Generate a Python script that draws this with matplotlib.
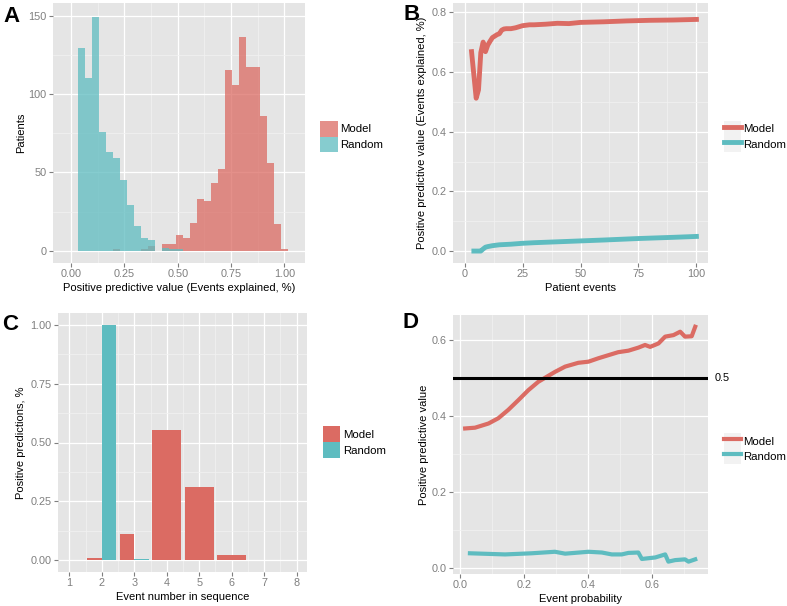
import numpy as np
import matplotlib
matplotlib.use("Agg")
import matplotlib.pyplot as plt
from matplotlib.patches import Patch
from matplotlib.lines import Line2D
from matplotlib.ticker import MultipleLocator, FormatStrFormatter

plt.rcParams['font.family'] = ['Liberation Sans', 'DejaVu Sans']

RED = '#DB6B63'
TEAL = '#5EBCC0'
BG = '#E5E5E5'
GREY = '#7F7F7F'
W, H = 787, 606

# --- A: histogram of PPV per patient (30 bins)
hist_edges = np.linspace(0.034, 1.017, 31)
hist_model = [0, 0, 0, 0, 0, 1, 0, 0, 0, 1, 3, 0, 4, 4, 10, 8, 18, 33, 32, 43,
              52, 115, 106, 136, 117, 117, 86, 56, 17, 1]
hist_random = [129, 110, 149, 76, 63, 59, 45, 29, 16, 8, 7, 0, 2, 1, 1, 0, 0, 0, 0, 0,
               0, 0, 0, 0, 0, 0, 0, 0, 0, 0]

# --- B: PPV vs number of patient events
b_events = [3, 4, 5, 6, 7, 8, 9, 10, 11, 12, 13, 14, 15, 16, 17, 18, 20, 22, 25, 28,
            30, 35, 40, 45, 50, 55, 60, 70, 80, 90, 100]
b_model = [0.668, 0.59, 0.512, 0.54, 0.665, 0.70, 0.668, 0.69, 0.703, 0.715, 0.72,
           0.725, 0.728, 0.74, 0.744, 0.745, 0.745, 0.748, 0.755, 0.758, 0.758, 0.760,
           0.763, 0.762, 0.766, 0.767, 0.768, 0.771, 0.773, 0.774, 0.776]
b_rand_events = [4, 5, 6, 7, 8, 9, 10, 12, 15, 20, 25, 30, 40, 50, 60, 75, 90, 100]
b_random = [0.0, 0.0, 0.0, 0.0, 0.007, 0.013, 0.015, 0.018, 0.021, 0.023, 0.026,
            0.028, 0.031, 0.034, 0.037, 0.042, 0.046, 0.049]

# --- C: positive predictions by event number
c_model_x = [2, 3, 4, 5, 6, 7]
c_model = [0.01, 0.11, 0.553, 0.31, 0.021, 0.002]
c_rand_x = [2, 3]
c_random = [1.0, 0.004]

# --- D: PPV vs event probability
d_prob = [0.016, 0.047, 0.089, 0.12, 0.151, 0.183, 0.214, 0.245, 0.271, 0.297, 0.329,
          0.370, 0.402, 0.433, 0.464, 0.495, 0.527, 0.558, 0.579, 0.595, 0.621, 0.642,
          0.668, 0.689, 0.704, 0.725, 0.736]
d_model = [0.367, 0.369, 0.380, 0.394, 0.416, 0.442, 0.468, 0.490, 0.503, 0.516, 0.530,
           0.540, 0.543, 0.552, 0.560, 0.568, 0.572, 0.580, 0.587, 0.582, 0.591, 0.609,
           0.613, 0.622, 0.609, 0.610, 0.635]
d_rand_prob = [0.031, 0.141, 0.224, 0.297, 0.329, 0.402, 0.444, 0.475, 0.506, 0.527,
               0.558, 0.569, 0.611, 0.642, 0.652, 0.673, 0.704, 0.715, 0.736]
d_random = [0.038, 0.035, 0.038, 0.042, 0.037, 0.042, 0.040, 0.035, 0.035, 0.039,
            0.040, 0.023, 0.027, 0.035, 0.016, 0.020, 0.022, 0.016, 0.022]

fig = plt.figure(figsize=(W / 100, H / 100), dpi=100)


def panel(l, t, r, b):
    return fig.add_axes([l / W, 1 - b / H, (r - l) / W, (b - t) / H])


def style(ax, xmaj, ymaj, xfmt, yfmt):
    ax.set_facecolor(BG)
    for s in ax.spines.values():
        s.set_visible(False)
    ax.xaxis.set_major_locator(MultipleLocator(xmaj))
    ax.xaxis.set_minor_locator(MultipleLocator(xmaj / 2))
    ax.yaxis.set_major_locator(MultipleLocator(ymaj))
    ax.yaxis.set_minor_locator(MultipleLocator(ymaj / 2))
    ax.xaxis.set_major_formatter(FormatStrFormatter(xfmt))
    ax.yaxis.set_major_formatter(FormatStrFormatter(yfmt))
    ax.grid(True, which='major', color='white', lw=0.9)
    ax.grid(True, which='minor', color='#F2F2F2', lw=0.5)
    ax.set_axisbelow(True)
    ax.tick_params(which='major', length=3, width=0.8, color=GREY,
                   labelcolor=GREY, labelsize=7.8, pad=1.5)
    ax.tick_params(which='minor', length=0)


def legend(handles, x, y, hl=1.55):
    fig.legend(handles, ['Model', 'Random'], loc='center left',
               bbox_to_anchor=(x / W, 1 - y / H), frameon=False, fontsize=8.2,
               handlelength=hl, handleheight=1.75, labelspacing=0,
               handletextpad=0.25, borderpad=0, borderaxespad=0)


def letter(s, x, y):
    fig.text(x / W, 1 - y / H, s, fontsize=16, fontweight='bold',
             ha='left', va='baseline')


# A
axA = panel(53, 3, 305, 263)
style(axA, 0.25, 50, '%.2f', '%d')
axA.stairs(hist_model, hist_edges, fill=True, color=RED, alpha=0.75, lw=0)
axA.stairs(hist_random, hist_edges, fill=True, color=TEAL, alpha=0.75, lw=0)
axA.set_xlim(-0.085, 1.097)
axA.set_ylim(-7.8, 158)
axA.set_xlabel('Positive predictive value (Events explained, %)', fontsize=8, labelpad=3)
axA.set_ylabel('Patients', fontsize=8, labelpad=2)
legend([Patch(facecolor=RED, alpha=0.75), Patch(facecolor=TEAL, alpha=0.75)], 320, 136.5)
letter('A', 3, 21.5)

# B
axB = panel(453, 3, 708, 263)
style(axB, 25, 0.2, '%d', '%.1f')
axB.plot(b_events, b_model, color=RED, lw=3.5)
axB.plot(b_rand_events, b_random, color=TEAL, lw=3.5)
axB.set_xlim(-5, 105)
axB.set_ylim(-0.04, 0.831)
axB.set_xlabel('Patient events', fontsize=8, labelpad=3)
axB.set_ylabel('Positive predictive value (Events explained, %)', fontsize=8, labelpad=3)
legend([(Patch(facecolor='#F2F2F2'), Line2D([], [], color=RED, lw=3.5)),
        (Patch(facecolor='#F2F2F2'), Line2D([], [], color=TEAL, lw=3.5))], 724, 136.5, 1.45)
letter('B', 404, 20.5)

# C: dodged bars, full width where only one group is present
axC = panel(58, 313, 307, 572)
style(axC, 1, 0.25, '%d', '%.2f')
axC.xaxis.set_minor_locator(MultipleLocator(0.5))
for xs, ys, col, side in [(c_model_x, c_model, RED, -1), (c_rand_x, c_random, TEAL, 1)]:
    for x, y in zip(xs, ys):
        shared = (x in c_model_x) and (x in c_rand_x)
        if shared:
            axC.bar(x + side * 0.225, y, width=0.45, color=col, lw=0)
        else:
            axC.bar(x, y, width=0.9, color=col, lw=0)
axC.set_xlim(0.65, 8.32)
axC.set_ylim(-0.051, 1.051)
axC.set_xlabel('Event number in sequence', fontsize=8, labelpad=3)
axC.set_ylabel('Positive predictions, %', fontsize=8, labelpad=3)
legend([Patch(facecolor=RED), Patch(facecolor=TEAL)], 322.5, 442)
letter('C', 2, 329.5)

# D
axD = panel(453, 315, 708, 574)
style(axD, 0.2, 0.2, '%.1f', '%.1f')
axD.plot(d_prob, d_model, color=RED, lw=3.0)
axD.plot(d_rand_prob, d_random, color=TEAL, lw=3.0)
axD.axhline(0.5, color='black', lw=2.2)
axD.annotate('0.5', xy=(1.027, 0.5), xycoords=('axes fraction', 'data'),
             fontsize=7.8, ha='left', va='center', annotation_clip=False)
axD.set_xlim(-0.022, 0.776)
axD.set_ylim(-0.0166, 0.666)
axD.set_xlabel('Event probability', fontsize=8, labelpad=3)
axD.set_ylabel('Positive predictive value', fontsize=8, labelpad=2)
legend([(Patch(facecolor='#F2F2F2'), Line2D([], [], color=RED, lw=3.0)),
        (Patch(facecolor='#F2F2F2'), Line2D([], [], color=TEAL, lw=3.0))], 724, 448.7, 1.45)
letter('D', 402, 327.5)

fig.savefig('out.png', dpi=100)
